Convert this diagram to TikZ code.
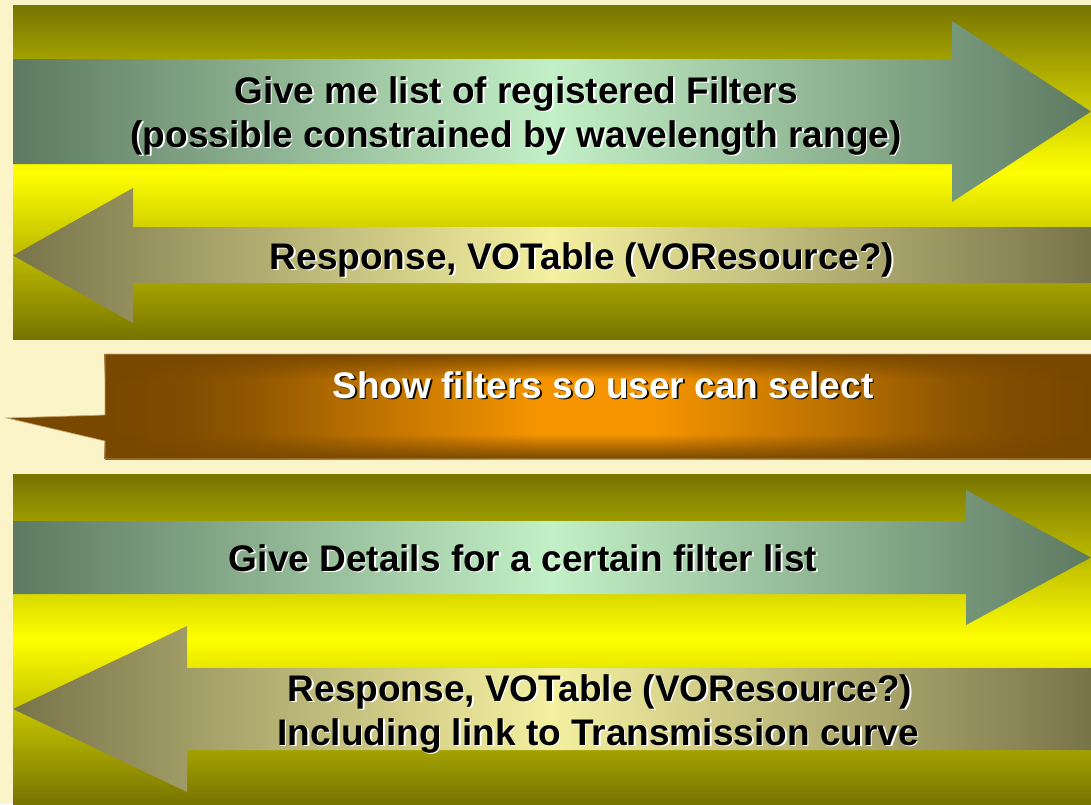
\documentclass[tikz,border=0pt]{standalone}
\usepackage{fontspec}
\setmainfont{Liberation Sans}
\usetikzlibrary{fadings}
\definecolor{bgC}{HTML}{FBF4C9}
\definecolor{olv}{HTML}{777400}
\definecolor{yel}{HTML}{FFFF00}
\definecolor{gdark}{HTML}{5E7A62}
\definecolor{glight}{HTML}{C2F0C6}
\definecolor{ydark}{HTML}{78744A}
\definecolor{ylight}{HTML}{F4F0A0}
\definecolor{orangeC}{HTML}{F59400}
\definecolor{brownC}{HTML}{784800}
\definecolor{tanC}{HTML}{C8A468}
\pgfdeclarehorizontalshading{hglow}{100bp}{color(0bp)=(brownC); color(25bp)=(brownC);
  color(28.75bp)=(brownC!95!orangeC); color(32.5bp)=(brownC!80!orangeC);
  color(37.5bp)=(brownC!50!orangeC); color(47bp)=(orangeC); color(53bp)=(orangeC);
  color(62.5bp)=(brownC!50!orangeC); color(67.5bp)=(brownC!80!orangeC);
  color(71.25bp)=(brownC!95!orangeC); color(75bp)=(brownC); color(100bp)=(brownC)}
\pgfdeclareverticalshading{vbandshade}{100bp}{color(0bp)=(white); color(25bp)=(white);
  color(30bp)=(white!60!black); color(37bp)=(black); color(63bp)=(black);
  color(70bp)=(white!60!black); color(75bp)=(white); color(100bp)=(white)}
\tikzfading[name=vband, shading=vbandshade]
\tikzset{
  panel/.style={top color=olv, bottom color=olv, middle color=yel, draw=none},
  garrow/.style={left color=gdark, right color=gdark, middle color=glight, draw=none},
  yarrow/.style={left color=ydark, right color=ydark, middle color=ylight, draw=none},
  lbl/.style={font=\fontsize{37}{43}\selectfont\bfseries, inner sep=0pt, anchor=base},
  darktext/.style={lbl, text=black},
  lightshadow/.style={lbl, text=white},
  lighttext/.style={lbl, text=white},
  darkshadow/.style={lbl, text=black!85!brownC},
}
\newcommand\shtxt[6]{% name, x, y, text style, shadow style, text
  \node[#5] (#1s) at (#2+1.6,#3+1.6) {#6};
  \node[#4] (#1) at (#2,#3) {#6};
}
\begin{document}
\begin{tikzpicture}[x=1pt,y=-1pt]
\useasboundingbox (0,0) rectangle (1091,804);
\fill[bgC] (0,0) rectangle (1091,804);

% panel 1
\shade[panel] (13,5) rectangle (1091,339);
\shade[garrow] (13,59) -- (952,59) -- (952,21) -- (1091,111.5) -- (952,202) -- (952,164) -- (13,164) -- cycle;
\shade[yarrow] (1091,227) -- (133,227) -- (133,188) -- (13,255.5) -- (133,323) -- (133,283) -- (1091,283) -- cycle;
\shtxt{t1a}{516}{103}{darktext}{lightshadow}{Give me list of registered Filters}
\shtxt{t1b}{516}{147}{darktext}{lightshadow}{(possible constrained by wavelength range)}
\shtxt{t2}{582}{269}{darktext}{lightshadow}{Response, VOTable (VOResource?)}

% middle callout
\shade[shading=hglow] (105,354) rectangle (1091,459);
\fill[brownC, path fading=vband] (105,354) rectangle (1091,459);
\fill[brownC] (105.5,415) -- (7,418) -- (105.5,441) -- cycle;
\draw[tanC, line width=0.7pt] (1092,354) -- (105,354) -- (105,415) -- (7,418) -- (105,441) -- (105,459) -- (1092,459);
\shtxt{t3}{603}{398}{lighttext}{darkshadow}{Show filters so user can select}

% panel 2
\shade[panel] (13,474) rectangle (1091,804);
\shade[garrow] (13,521) -- (966,521) -- (966,490) -- (1091,557.5) -- (966,625) -- (966,594) -- (13,594) -- cycle;
\shade[yarrow] (1091,668) -- (187,668) -- (187,626) -- (13,709) -- (187,792) -- (187,750) -- (1091,750) -- cycle;
\shtxt{t4}{523}{571}{darktext}{lightshadow}{Give Details for a certain filter list}
\shtxt{t5a}{600}{701}{darktext}{lightshadow}{Response, VOTable (VOResource?)}
\shtxt{t5b}{598}{745}{darktext}{lightshadow}{Including link to Transmission curve}
\end{tikzpicture}
\end{document}
